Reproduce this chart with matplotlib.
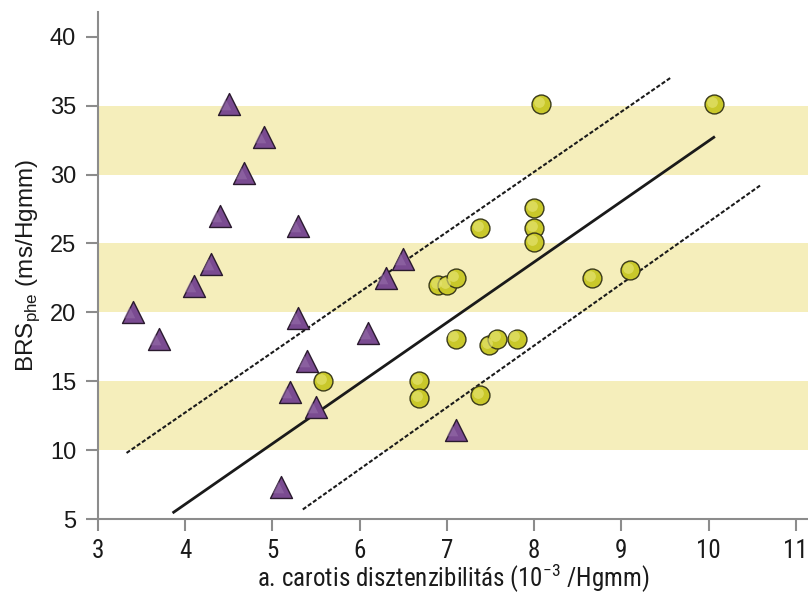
import matplotlib
matplotlib.use('Agg')
import matplotlib.pyplot as plt
import matplotlib.transforms as mtransforms

plt.rcParams['font.family'] = ['Liberation Sans', 'DejaVu Sans']
narrow = ['Roboto Condensed', 'Liberation Sans']

# triangles (purple group)
tri_x = [3.4, 3.7, 4.1, 4.3, 4.4, 4.5, 4.68, 4.9, 5.3, 5.3, 5.4, 5.2, 5.5, 5.1, 6.1, 6.3, 6.5, 7.1]
tri_y = [20.0, 18.1, 21.9, 23.5, 27.0, 35.1, 30.1, 32.7, 26.3, 19.6, 16.5, 14.2, 13.1, 7.3, 18.5, 22.5, 23.9, 11.5]

# circles (yellow group)
circ_x = [5.58, 6.68, 6.68, 6.9, 7.0, 7.1, 7.1, 7.48, 7.58, 7.8, 7.38, 7.38, 8.08, 10.06, 8.0, 8.0, 8.0, 8.66, 9.1]
circ_y = [15.0, 15.0, 13.8, 22.0, 22.0, 22.5, 18.1, 17.6, 18.1, 18.1, 14.0, 26.1, 35.1, 35.1, 27.6, 26.1, 25.1, 22.5, 23.1]

# regression line and band lines (end points)
fit_x = [3.87, 10.06]
fit_y = [5.5, 32.7]
upper_x = [3.33, 9.56]
upper_y = [9.8, 37.0]
lower_x = [5.35, 10.59]
lower_y = [5.7, 29.2]

bands = [(10, 15), (20, 25), (30, 35)]

fig = plt.figure(figsize=(8.08, 5.96), dpi=100)
ax = fig.add_axes([0.121, 0.129, 0.879, 0.851])

for lo, hi in bands:
    ax.axhspan(lo, hi, color='#f5eebb', lw=0, zorder=0)

ax.plot(fit_x, fit_y, color='#1a1a1a', lw=2, zorder=2)
ax.plot(upper_x, upper_y, color='#1a1a1a', lw=1.5, ls=(0, (2, 1)), zorder=2)
ax.plot(lower_x, lower_y, color='#1a1a1a', lw=1.5, ls=(0, (2, 1)), zorder=2)

# markers with a soft highlight for the shaded look
hl_tri = mtransforms.offset_copy(ax.transData, fig=fig, x=-2.5, y=0, units='points')
hl_circ = mtransforms.offset_copy(ax.transData, fig=fig, x=-1.5, y=1.5, units='points')
ax.scatter(tri_x, tri_y, marker='^', s=250, color='#7a4b91', edgecolor='#2a1a2e', lw=1, zorder=3)
ax.scatter(tri_x, tri_y, marker='^', s=70, color='#9e78b2', lw=0, alpha=0.45, zorder=4, transform=hl_tri)
ax.scatter(circ_x, circ_y, marker='o', s=185, color='#c9c82a', edgecolor='#3a3a1a', lw=1, zorder=3)
ax.scatter(circ_x, circ_y, marker='o', s=60, color='#e8e77a', lw=0, alpha=0.6, zorder=4, transform=hl_circ)

ax.set_xlim(3, 11.14)
ax.set_ylim(5, 41.8)
ax.set_xticks(range(3, 12))
ax.set_yticks(range(5, 41, 5))

for s in ['top', 'right']:
    ax.spines[s].set_visible(False)
for s in ['left', 'bottom']:
    ax.spines[s].set_color('#8c8c8c')
    ax.spines[s].set_linewidth(1.5)
ax.tick_params(direction='out', length=8.5, width=1.5, color='#8c8c8c', labelcolor='#1a1a1a')
ax.tick_params(axis='y', labelsize=17, pad=7)
ax.tick_params(axis='x', labelsize=18, pad=6)
for lab in ax.get_xticklabels():
    lab.set_family(narrow)

ax.set_xlabel('a. carotis disztenzibilitás (10$^{\\mathregular{-3}}$ /Hgmm)', fontsize=18,
              family=narrow, labelpad=-1, color='#1a1a1a')
ax.set_ylabel('BRS$_{\\mathregular{phe}}$ (ms/Hgmm)', fontsize=17.5, labelpad=6, color='#1a1a1a')

fig.savefig('out.png', dpi=100)
